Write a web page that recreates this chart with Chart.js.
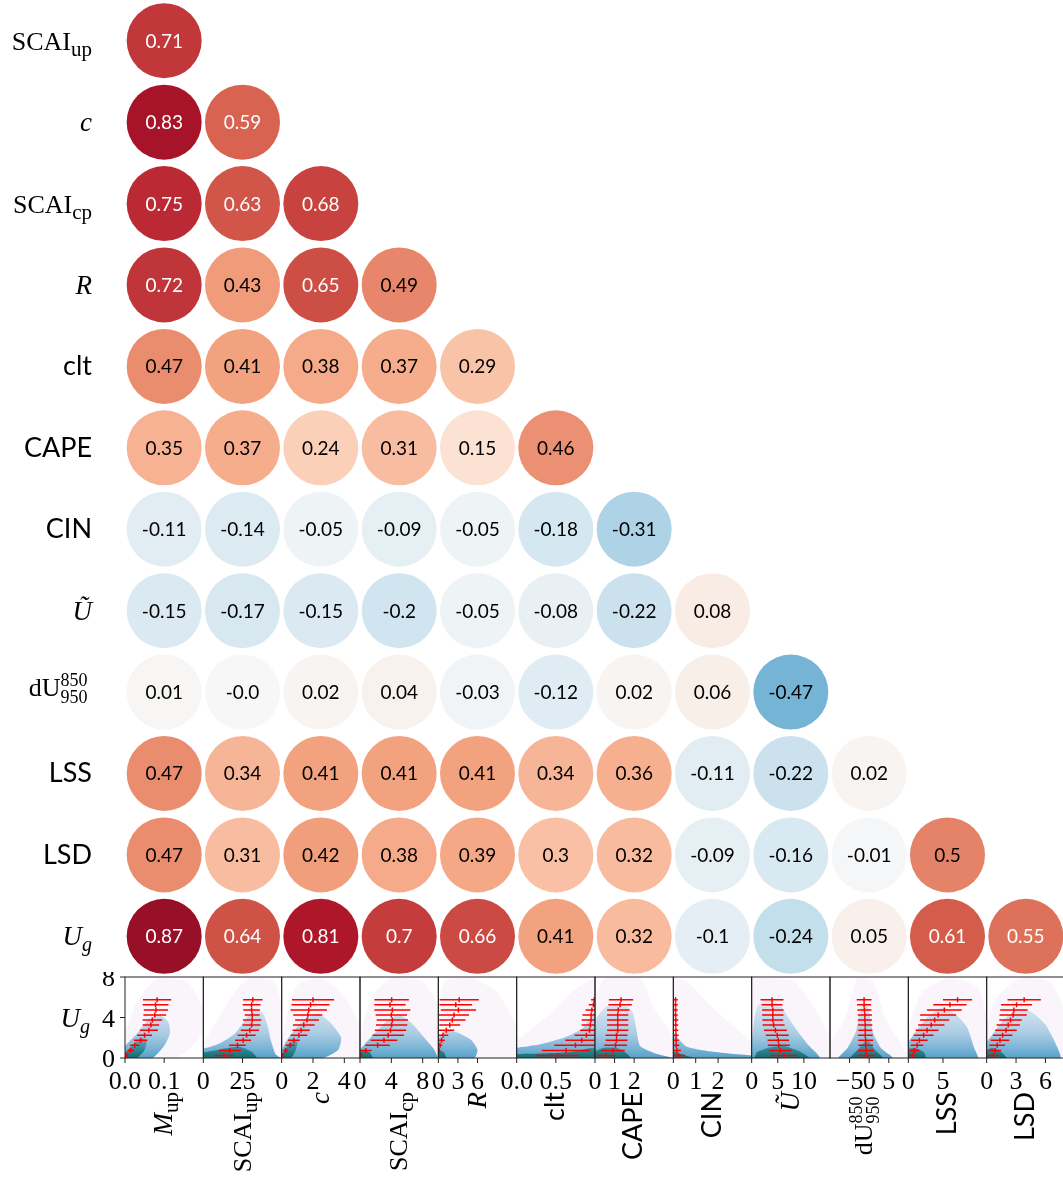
<!DOCTYPE html>
<html>
<head>
<meta charset="utf-8">
<script src="https://cdn.jsdelivr.net/npm/chart.js@4.4.1/dist/chart.umd.min.js"></script>
<style>
  html, body { margin: 0; padding: 0; background: #fff; overflow: hidden; }
  #wrap { position: relative; width: 1063px; height: 1187px; overflow: hidden; }
  canvas { position: absolute; }
</style>
</head>
<body>
<div id="wrap"></div>
<script>
// ---- data ----
const rowKeys = ['SCAIup', 'c', 'SCAIcp', 'R', 'clt', 'CAPE', 'CIN', 'Ut', 'dU', 'LSS', 'LSD', 'Ug'];
const colKeys = ['Mup', 'SCAIup', 'c', 'SCAIcp', 'R', 'clt', 'CAPE', 'CIN', 'Ut', 'dU', 'LSS', 'LSD'];

// lower triangle of the correlation matrix (row i has i+1 values)
const corr = [
  [0.71],
  [0.83, 0.59],
  [0.75, 0.63, 0.68],
  [0.72, 0.43, 0.65, 0.49],
  [0.47, 0.41, 0.38, 0.37, 0.29],
  [0.35, 0.37, 0.24, 0.31, 0.15, 0.46],
  [-0.11, -0.14, -0.05, -0.09, -0.05, -0.18, -0.31],
  [-0.15, -0.17, -0.15, -0.2, -0.05, -0.08, -0.22, 0.08],
  [0.01, -0, 0.02, 0.04, -0.03, -0.12, 0.02, 0.06, -0.47],
  [0.47, 0.34, 0.41, 0.41, 0.41, 0.34, 0.36, -0.11, -0.22, 0.02],
  [0.47, 0.31, 0.42, 0.38, 0.39, 0.3, 0.32, -0.09, -0.16, -0.01, 0.5],
  [0.87, 0.64, 0.81, 0.7, 0.66, 0.41, 0.32, -0.1, -0.24, 0.05, 0.61, 0.55]
];

// bottom row: U_g against each variable
const ugBins = [0.25, 0.75, 1.25, 1.75, 2.25, 2.75, 3.25, 3.75, 4.25, 4.75, 5.25, 5.75];
const ugTicks = [0, 4, 8];
const xLimits = [[0, 0.2], [0, 50], [0, 5], [0, 10], [0, 12], [0, 1], [0, 4], [0, 3.5], [0, 15], [-10, 10], [0, 11.3], [0, 8]];
const xTicks = [[0, 0.1], [0, 25], [0, 2, 4], [0, 4, 8], [0, 3, 6], [0, 0.5], [0, 1, 2], [0, 1, 2], [0, 5, 10], [-5, 0, 5], [0, 5], [0, 3, 6]];

// binned mean of x for each U_g bin (bottom to top)
const barMeans = [
  [0.004, 0.015, 0.025, 0.040, 0.050, 0.061, 0.066, 0.070, 0.076, 0.079, 0.078, 0.082],
  [13.3, 17.0, 21.8, 25.4, 27.6, 29.7, 30.8, 31.2, 31.2, 30.8, 30.8, 31.6],
  [0.10, 0.25, 0.53, 0.78, 1.10, 1.24, 1.41, 1.62, 1.67, 1.73, 1.84, 2.00],
  [0.17, 0.75, 2.25, 3.06, 3.60, 3.90, 4.04, 4.13, 4.00, 4.13, 3.83, 4.04],
  [0.05, 0.12, 0.26, 0.50, 0.72, 1.23, 1.75, 2.15, 2.40, 3.08, 2.67, 3.20],
  [0.52, 0.63, 0.75, 0.83, 0.89, 0.93, 0.94, 0.95, 0.95, 0.96, 0.98, 0.99],
  [0.55, 0.92, 1.05, 1.10, 1.10, 1.16, 1.16, 1.16, 1.16, 1.19, 1.28, 1.33],
  [0.22, 0.16, 0.13, 0.12, 0.12, 0.11, 0.11, 0.11, 0.10, 0.10, 0.10, 0.10],
  [6.2, 5.5, 5.2, 5.1, 4.9, 4.55, 4.2, 4.05, 4.05, 4.05, 3.9, 3.9],
  [-0.7, -0.8, -0.9, -0.9, -1.0, -1.0, -1.0, -1.1, -1.1, -1.2, -1.3, -1.3],
  [0.63, 0.87, 1.26, 1.6, 2.2, 2.7, 3.3, 3.8, 4.3, 5.2, 6.0, 7.1],
  [0.68, 0.85, 1.08, 1.36, 1.63, 1.97, 2.2, 2.44, 2.7, 2.78, 3.05, 3.83]
];
// binned standard deviation of x
const barSpreads = [
  [0.004, 0.008, 0.012, 0.017, 0.019, 0.023, 0.021, 0.025, 0.029, 0.031, 0.033, 0.036],
  [6.0, 7.0, 5.3, 5.1, 5.8, 5.8, 5.7, 5.9, 4.8, 5.3, 5.7, 6.2],
  [0.07, 0.15, 0.28, 0.37, 0.53, 0.55, 0.69, 0.76, 0.93, 1.16, 1.21, 1.34],
  [0.2, 0.75, 1.55, 1.7, 2.0, 2.0, 2.0, 2.0, 2.0, 2.3, 2.0, 2.2],
  [0.1, 0.2, 0.35, 0.5, 0.8, 1.2, 1.6, 2.0, 2.3, 2.7, 2.5, 3.0],
  [0.28, 0.31, 0.27, 0.21, 0.15, 0.12, 0.11, 0.12, 0.11, 0.08, 0.06, 0.04],
  [0.5, 0.6, 0.58, 0.56, 0.56, 0.54, 0.54, 0.54, 0.54, 0.57, 0.6, 0.62],
  [0.30, 0.18, 0.14, 0.12, 0.12, 0.11, 0.11, 0.11, 0.10, 0.10, 0.10, 0.10],
  [2.5, 2.2, 2.1, 2.05, 2.2, 2.2, 2.1, 2.0, 2.05, 2.05, 2.0, 2.2],
  [2.2, 2.0, 1.9, 1.9, 1.9, 1.8, 1.8, 1.8, 1.8, 1.8, 1.8, 1.9],
  [0.56, 0.7, 0.9, 1.2, 1.43, 1.65, 1.9, 2.1, 2.6, 2.5, 2.4, 2.1],
  [0.56, 0.63, 0.8, 0.95, 1.0, 1.1, 1.19, 1.15, 1.39, 1.4, 1.58, 1.7]
];

// approximate density contours of the point clouds (x, U_g)
const cloudSparse = [
  [[0, 0], [0.13, 0], [0.19, 2], [0.2, 4.5], [0.16, 7.5], [0.08, 7.8], [0.03, 5.5], [0, 2.5]],
  [[0, 0], [50, 0], [50, 5], [45, 7.6], [30, 7.9], [20, 6.5], [8, 3.5], [0, 1.5]],
  [[0, 0], [5, 0], [5, 3.2], [4, 6], [2.6, 7.9], [1, 7.2], [0.3, 4], [0, 1.5]],
  [[0, 0], [10, 0], [10, 5], [8, 7.6], [4, 7.9], [1.5, 6], [0.3, 3], [0, 1]],
  [[0, 0], [12, 0], [12, 3], [9, 6.5], [5, 7.9], [1, 7.6], [0, 5]],
  [[0, 0], [1, 0], [1, 7.8], [0.7, 6.5], [0.4, 4.2], [0.15, 2.6], [0, 1.8]],
  [[0, 0], [4, 0], [4, 2], [3, 5], [2.3, 7.9], [0.5, 7.9], [0, 6]],
  [[0, 0], [3.5, 0], [3.5, 1.5], [2.5, 3.5], [1.5, 5.5], [0.6, 7.6], [0, 7.9]],
  [[0, 0], [15, 0], [15, 2], [12, 5], [8, 7.6], [3, 7.9], [0, 7.9]],
  [[-10, 0], [10, 0], [8, 1.5], [4, 4], [1, 7.6], [-3, 7.9], [-6, 4], [-10, 1.5]],
  [[0, 0], [11.3, 0], [11.3, 4], [10, 7], [6, 7.9], [2, 6.5], [0, 3]],
  [[0, 0], [8, 0], [8, 4.5], [6.5, 7.5], [3.5, 7.9], [1, 6], [0, 3]]
];
const cloudBody = [
  [[0, 0], [0.07, 0], [0.1, 1.2], [0.115, 2.5], [0.11, 3.6], [0.085, 4.3], [0.06, 3.8], [0.03, 2.4], [0, 1.2]],
  [[0, 0], [49, 0], [46, 0.4], [43, 1.8], [41, 3.2], [38, 4.4], [33, 4.8], [27, 3.8], [20, 2.4], [10, 1.4], [0, 0.9]],
  [[0, 0], [2.6, 0], [3.6, 0.8], [3.8, 2.0], [3.1, 3.5], [2.3, 4.4], [1.3, 3.6], [0.4, 1.9], [0, 0.8]],
  [[0, 0], [9.9, 0], [9.5, 0.8], [8, 2.2], [6.5, 3.5], [5, 4.3], [3.5, 3.7], [1.8, 2.4], [0.4, 1.2], [0, 0.8]],
  [[0, 0], [5.5, 0], [6, 0.8], [5, 1.8], [3, 2.5], [1, 2.7], [0, 2.0]],
  [[0, 0], [1, 0], [1, 4.6], [0.85, 3.0], [0.6, 2.0], [0.3, 1.35], [0, 1.0]],
  [[0, 0], [4, 0], [3, 0.5], [2.3, 1.2], [2.1, 3], [1.9, 4.6], [1.4, 5.3], [0.6, 5.1], [0.1, 4], [0, 3]],
  [[0, 0], [3.5, 0], [3.5, 0.25], [2.5, 0.45], [1.5, 0.7], [0.6, 1.1], [0.2, 2.0], [0, 2.6]],
  [[0, 0], [13, 0], [11, 1.2], [9, 2.5], [7, 4], [5.5, 5.2], [3, 5.8], [1, 5], [0.3, 3], [0, 1.5]],
  [[-8, 0], [6, 0], [3, 1], [1, 2.5], [-0.5, 5.4], [-2, 5], [-3.5, 2.5], [-5.5, 1]],
  [[0, 0], [10, 0], [9.5, 1], [8.5, 3], [7, 4.2], [5, 5], [3, 4.2], [1.5, 3], [0, 1.6]],
  [[0, 0], [7.5, 0], [7, 1.5], [6, 3.3], [4.5, 4.6], [3, 4.8], [1.5, 3.5], [0.5, 2.2], [0, 1.6]]
];
const cloudCore = [
  [[0, 0], [0.03, 0], [0.05, 0.8], [0.055, 1.7], [0.04, 2.0], [0.015, 1.1], [0, 0.5]],
  [[0, 0], [34, 0], [31, 0.6], [23, 1.1], [12, 0.9], [0, 0.55]],
  [[0, 0], [0.6, 0], [0.9, 0.8], [1.0, 1.6], [0.6, 1.6], [0.2, 0.8], [0, 0.4]],
  [[0, 0], [1.6, 0], [1.2, 0.6], [0.3, 0.8], [0, 0.5]],
  [[0, 0], [1.2, 0], [0.8, 0.6], [0, 0.8]],
  [[0, 0], [1, 0], [1, 1.0], [0.7, 0.6], [0.3, 0.45], [0, 0.4]],
  [[0, 0], [1.8, 0], [1.6, 0.5], [1.1, 1.0], [0.4, 1.0], [0, 0.7]],
  [[0, 0], [0.9, 0], [0.4, 0.35], [0.1, 0.6], [0, 0.6]],
  [[0.5, 0], [11, 0], [9, 0.7], [6, 1.2], [3, 1.0], [1, 0.6]],
  [[-5, 0], [3.5, 0], [1.5, 0.8], [-0.5, 1.8], [-2.5, 1.0]],
  [[0, 0], [2.5, 0], [2.2, 0.6], [1, 1.0], [0, 0.9]],
  [[0, 0], [2, 0], [1.5, 0.6], [0.6, 1.0], [0, 0.8]]
];

// ---- layout / style ----
const X0 = 125, CW = 940 / 12, MAT_H = 977, P_TOP = 977, P_BOT = 1058;
const wrap = document.getElementById('wrap');

const FONTS = {
  r: ['26px "Liberation Serif"', 0],
  i: ['italic 27px "Liberation Serif"', 0],
  s: ['27px Lato', 0],
  sub: ['21px "Liberation Serif"', 6],
  isub: ['italic 20px "Liberation Serif"', 6],
  sup: ['18px "Liberation Serif"', -10]
};
const LABELS = {
  Mup: [['i', 'M'], ['sub', 'up']],
  SCAIup: [['r', 'SCAI'], ['sub', 'up']],
  c: [['i', 'c']],
  SCAIcp: [['r', 'SCAI'], ['sub', 'cp']],
  R: [['i', 'R']],
  clt: [['s', 'clt']],
  CAPE: [['s', 'CAPE']],
  CIN: [['s', 'CIN']],
  Ut: [['i', 'Ũ']],
  dU: [['r', 'dU'], ['stack', '850', '950']],
  LSS: [['s', 'LSS']],
  LSD: [['s', 'LSD']],
  Ug: [['i', 'U'], ['isub', 'g']]
};

function partWidth(ctx, p) {
  if (p[0] === 'stack') {
    ctx.font = FONTS.sup[0];
    const a = ctx.measureText(p[1]).width;
    ctx.font = FONTS.sub[0];
    return Math.max(a, ctx.measureText(p[2]).width);
  }
  ctx.font = FONTS[p[0]][0];
  return ctx.measureText(p[1]).width;
}

// draws a label with sub/superscripts, right aligned at xRight
function drawRich(ctx, key, xRight, base) {
  const parts = LABELS[key];
  const w = parts.reduce((s, p) => s + partWidth(ctx, p), 0);
  let x = xRight - w;
  ctx.textAlign = 'left';
  ctx.textBaseline = 'alphabetic';
  ctx.fillStyle = '#000';
  for (const p of parts) {
    const pw = partWidth(ctx, p);
    if (p[0] === 'stack') {
      ctx.font = FONTS.sup[0];
      ctx.fillText(p[1], x, base - 10);
      ctx.font = '18px "Liberation Serif"';
      ctx.fillText(p[2], x, base + 7);
    } else {
      ctx.font = FONTS[p[0]][0];
      ctx.fillText(p[1], x, base + FONTS[p[0]][1]);
    }
    x += pw;
  }
}

// RdBu_r colour map for values in [-1, 1]
const RDBU = [[103, 0, 31], [178, 24, 43], [214, 96, 77], [244, 165, 130], [253, 219, 199], [247, 247, 247],
  [209, 229, 240], [146, 197, 222], [67, 147, 195], [33, 102, 172], [5, 48, 97]];
function rdbuR(v) {
  const t = (1 - (v + 1) / 2) * 10;
  const i = Math.max(0, Math.min(9, Math.floor(t)));
  const f = t - i;
  const c = RDBU[i].map((a, k) => Math.round(a + (RDBU[i + 1][k] - a) * f));
  return `rgb(${c[0]},${c[1]},${c[2]})`;
}
const fmtR = v => Object.is(v, -0) ? '-0.0' : String(v);

function makeCanvas(left, top, w, h) {
  const c = document.createElement('canvas');
  c.width = w; c.height = h;
  c.style.left = left + 'px'; c.style.top = top + 'px';
  c.style.width = w + 'px'; c.style.height = h + 'px';
  wrap.appendChild(c);
  return c;
}

// ---- correlation matrix ----
const cells = [];
corr.forEach((row, r) => row.forEach((v, c) => cells.push({x: c, y: r, v: v})));

const matrixText = {
  id: 'matrixText',
  afterDatasetsDraw(chart) {
    const ctx = chart.ctx;
    const meta = chart.getDatasetMeta(0);
    ctx.save();
    ctx.font = '19px Lato';
    ctx.textAlign = 'center';
    ctx.textBaseline = 'alphabetic';
    meta.data.forEach((pt, k) => {
      const v = cells[k].v;
      ctx.fillStyle = Math.abs(v) > 0.5 ? '#fff' : '#000';
      ctx.fillText(fmtR(v), pt.x, pt.y + 7);
    });
    const ys = chart.scales.y;
    rowKeys.forEach((key, r) => drawRich(ctx, key, 92, ys.getPixelForValue(r) + (key === 'dU' ? 4 : 9)));
    ctx.restore();
  }
};

new Chart(makeCanvas(0, 0, 1066, MAT_H), {
  type: 'scatter',
  data: {
    datasets: [{
      data: cells,
      pointRadius: 37.5,
      pointBorderWidth: 0,
      pointBackgroundColor: c => c.raw ? rdbuR(c.raw.v) : '#fff'
    }]
  },
  options: {
    responsive: false,
    animation: false,
    events: [],
    layout: {autoPadding: false, padding: {left: X0, right: 1, top: 0, bottom: 0}},
    plugins: {legend: {display: false}, tooltip: {enabled: false}},
    scales: {
      x: {type: 'linear', min: -0.5, max: 11.5, display: false},
      y: {type: 'linear', min: -0.5, max: 11.5, reverse: true, display: false}
    }
  },
  plugins: [matrixText]
});

// ---- bottom row of U_g panels ----
const TICK_FONT = '26px "Liberation Serif"';
function fmtTick(v, step) {
  const s = step < 1 ? Math.abs(v).toFixed(1) : String(Math.abs(v));
  return v < 0 ? '\u2212' + s : s;
}

const panelFrame = {
  id: 'panelFrame',
  afterDraw(chart, args, opts) {
    const {ctx, chartArea: a, scales: {x, y}} = chart;
    const i = opts.index;
    ctx.save();
    ctx.strokeStyle = '#222';
    ctx.lineWidth = 1;
    ctx.strokeRect(a.left, a.top, a.right - a.left, a.bottom - a.top);
    const tk = xTicks[i];
    const step = tk[1] - tk[0];
    ctx.font = TICK_FONT;
    ctx.fillStyle = '#000';
    ctx.textAlign = 'center';
    ctx.textBaseline = 'alphabetic';
    tk.forEach(v => {
      const px = x.getPixelForValue(v);
      ctx.beginPath();
      ctx.moveTo(px, a.bottom);
      ctx.lineTo(px, a.bottom + 5);
      ctx.stroke();
      ctx.fillText(fmtTick(v, step), px, a.bottom + 31);
    });
    if (i === 0) {
      ctx.textAlign = 'right';
      ugTicks.forEach(v => {
        const py = y.getPixelForValue(v);
        ctx.beginPath();
        ctx.moveTo(a.left - 5, py);
        ctx.lineTo(a.left, py);
        ctx.stroke();
        ctx.font = TICK_FONT;
        ctx.fillText(String(v), a.left - 10, py + 9);
      });
      drawRich(ctx, 'Ug', 90, y.getPixelForValue(4) + 9);
    }
    // rotated column label
    ctx.translate((a.left + a.right) / 2, a.bottom + 34);
    ctx.rotate(-Math.PI / 2);
    drawRich(ctx, colKeys[i], 0, colKeys[i] === 'dU' ? 3 : 8);
    ctx.restore();
  }
};

function vGrad(stops) {
  return c => {
    const ch = c.chart;
    if (!ch.chartArea) return stops[0][1];
    const y = ch.scales.y;
    const top = stops[stops.length - 1][0];
    const g = ch.ctx.createLinearGradient(0, y.getPixelForValue(0), 0, y.getPixelForValue(top));
    stops.forEach(([v, col]) => g.addColorStop(v / top, col));
    return g;
  };
}
const toPts = arr => arr.map(([x, y]) => ({x: x, y: y}));

colKeys.forEach((key, i) => {
  const pl = X0 + i * CW;
  const cLeft = i === 0 ? 0 : Math.floor(pl) - 40;
  const padL = pl - cLeft;
  const w = Math.ceil(padL + CW + 40);
  const padR = w - padL - CW;
  const top = P_TOP - 5;
  const h = 1187 - top;
  const cv = makeCanvas(cLeft, top, w, h);

  const bars = [];
  const means = [];
  ugBins.forEach((yb, k) => {
    const m = barMeans[i][k], s = barSpreads[i][k];
    bars.push({x: m - s, y: yb}, {x: m + s, y: yb}, {x: NaN, y: NaN});
    means.push({x: m, y: yb});
  });

  new Chart(cv, {
    type: 'line',
    data: {
      datasets: [
        {data: means, showLine: false, pointStyle: 'line', pointRotation: 90, pointRadius: 2.5,
          pointBorderColor: '#ff0000', pointBorderWidth: 1.5, order: 1},
        {data: bars, borderColor: '#ff0000', borderWidth: 1.5, pointRadius: 0, fill: false, order: 2},
        {data: toPts(cloudCore[i]), fill: 'shape', borderWidth: 0, pointRadius: 0, tension: 0.2, order: 3,
          backgroundColor: vGrad([[0, 'rgba(4,100,92,0.85)'], [2, 'rgba(30,130,160,0.4)']])},
        {data: toPts(cloudBody[i]), fill: 'shape', borderWidth: 0, pointRadius: 0, tension: 0.2, order: 4,
          backgroundColor: vGrad([[0, 'rgba(45,140,190,0.8)'], [2.5, 'rgba(120,178,214,0.6)'], [6, 'rgba(200,222,238,0.45)']])},
        {data: toPts(cloudSparse[i]), fill: 'shape', borderWidth: 0, pointRadius: 0, tension: 0.2, order: 5,
          backgroundColor: 'rgba(215,190,225,0.16)'}
      ]
    },
    options: {
      responsive: false,
      animation: false,
      events: [],
      layout: {autoPadding: false, padding: {left: padL, right: padR, top: 5, bottom: h - 5 - (P_BOT - P_TOP)}},
      plugins: {legend: {display: false}, tooltip: {enabled: false}, panelFrame: {index: i}},
      scales: {
        x: {type: 'linear', min: xLimits[i][0], max: xLimits[i][1], display: false},
        y: {type: 'linear', min: 0, max: 8, display: false}
      }
    },
    plugins: [panelFrame]
  });
});
</script>
</body>
</html>
